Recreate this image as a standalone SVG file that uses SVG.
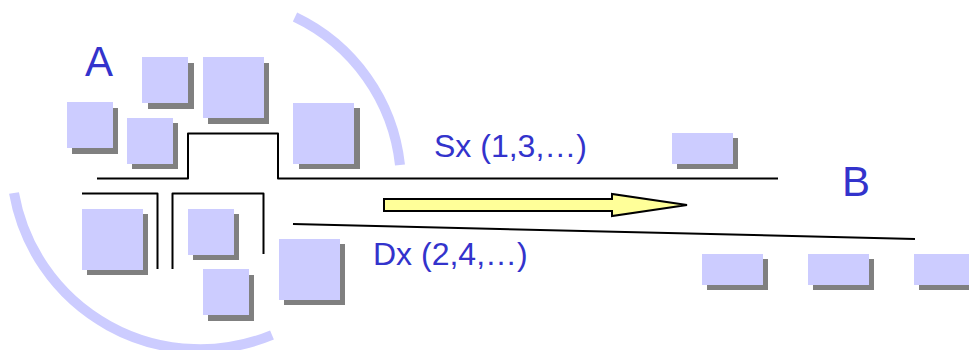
<svg xmlns="http://www.w3.org/2000/svg" width="969" height="350" viewBox="0 0 969 350">
<style>
.s{fill:#808080}
.b{fill:#ccccff}
.l{fill:none;stroke:#000;stroke-width:2;stroke-linejoin:round}
.arc{fill:none;stroke:#ccccff;stroke-width:10}
.t{font-family:"Liberation Sans",Arial,sans-serif;fill:#3333cc}
.big{font-size:42px}
.sm{font-size:32px}
</style>
<rect width="969" height="350" fill="#fff"/>
<g id="arcs">
<path class="arc" d="M295 17A186 186 0 0 1 400 165"/>
<path class="arc" d="M14 193A189 189 0 0 0 272 335"/>
</g>
<g id="node-a1"><rect class="s" x="148" y="63" width="46" height="46"/><rect class="b" x="142" y="57" width="46" height="46"/></g>
<g id="node-a2"><rect class="s" x="208" y="63" width="61" height="61"/><rect class="b" x="203" y="57" width="61" height="61"/></g>
<g id="node-a3"><rect class="s" x="72" y="108" width="46" height="46"/><rect class="b" x="67" y="102" width="46" height="46"/></g>
<g id="node-a4"><rect class="s" x="132" y="123" width="46" height="46"/><rect class="b" x="127" y="118" width="46" height="46"/></g>
<g id="node-a5"><rect class="s" x="299" y="108" width="61" height="61"/><rect class="b" x="293" y="103" width="61" height="61"/></g>
<g id="node-a6"><rect class="s" x="87" y="214" width="61" height="61"/><rect class="b" x="82" y="209" width="61" height="61"/></g>
<g id="node-a7"><rect class="s" x="193" y="214" width="46" height="46"/><rect class="b" x="188" y="209" width="46" height="46"/></g>
<g id="node-a8"><rect class="s" x="208" y="275" width="46" height="46"/><rect class="b" x="203" y="269" width="46" height="46"/></g>
<g id="node-a9"><rect class="s" x="284" y="244" width="61" height="61"/><rect class="b" x="279" y="239" width="61" height="61"/></g>
<g id="node-b1"><rect class="s" x="677" y="138" width="61" height="31"/><rect class="b" x="672" y="133" width="61" height="31"/></g>
<g id="node-b2"><rect class="s" x="707" y="259" width="61" height="31"/><rect class="b" x="702" y="254" width="61" height="31"/></g>
<g id="node-b3"><rect class="s" x="813" y="259" width="61" height="31"/><rect class="b" x="808" y="254" width="61" height="31"/></g>
<g id="node-b4"><rect class="s" x="919" y="259" width="61" height="31"/><rect class="b" x="914" y="254" width="61" height="31"/></g>
<g id="connectors">
<path class="l" d="M97 178.500H188V133.500H278V178.500H778"/>
<path class="l" d="M82 193.500H157.500V269"/>
<path class="l" d="M172.500 269V193.500H263.500V254"/>
<path class="l" d="M293 224L915 239"/>
<path d="M384 199H612V194L687 205L612 216V211H384Z" fill="#ffff99" stroke="#000" stroke-width="2"/>
</g>
<text class="t big" x="85" y="76">A</text>
<text class="t big" x="842" y="196">B</text>
<text class="t sm" x="434" y="157">Sx (1,3,…)</text>
<text class="t sm" x="373" y="265">Dx (2,4,…)</text>
</svg>
